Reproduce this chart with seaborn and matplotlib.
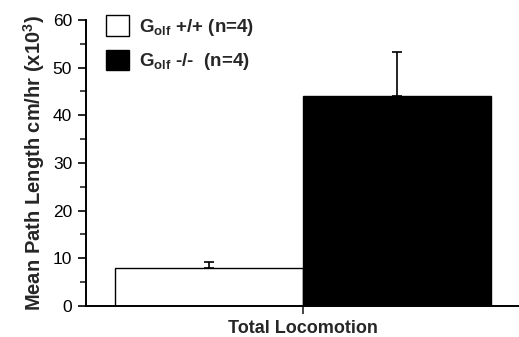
import matplotlib
matplotlib.use("Agg")
import matplotlib.pyplot as plt
import seaborn as sns
import pandas as pd
from matplotlib.ticker import MultipleLocator
from matplotlib.patches import Patch

categories = ["Total Locomotion", "Total Locomotion"]
genotypes = [r"G$_{olf}$ +/+ (n=4)", r"G$_{olf}$ -/-  (n=4)"]
values = [8.0, 44.0]
errors = [1.3, 9.3]
colors = ["white", "black"]

sns.set_theme(style="ticks")
plt.rcParams['font.family'] = ['Liberation Sans', 'DejaVu Sans']
plt.rcParams['mathtext.fontset'] = 'custom'
plt.rcParams['mathtext.default'] = 'bf'
plt.rcParams['mathtext.bf'] = 'Liberation Sans:bold'
plt.rcParams['mathtext.rm'] = 'Liberation Sans:bold'

df = pd.DataFrame({"cat": categories, "genotype": genotypes, "value": values})

fig = plt.figure(figsize=(5.19, 3.37), dpi=100)
ax = fig.add_axes([0.1657, 0.092, 0.8343, 0.849])
sns.barplot(data=df, x="cat", y="value", hue="genotype", hue_order=genotypes,
            palette=colors, edgecolor="black", linewidth=1.0, errorbar=None,
            width=0.8, ax=ax, legend=False)

for bar, err in zip(ax.patches, errors):
    cx = bar.get_x() + bar.get_width() / 2
    h = bar.get_height()
    ax.errorbar(cx, h, yerr=[[0], [err]], fmt="none", ecolor="black",
                elinewidth=1.2, capsize=3.5, capthick=1.2, zorder=5)

ax.set_ylim(0, 60)
ax.set_xlim(-0.462, 0.46)
ax.yaxis.set_major_locator(MultipleLocator(10))
ax.yaxis.set_minor_locator(MultipleLocator(5))
ax.tick_params(axis="y", which="major", length=6, width=1.2, labelsize=12.5, pad=4, colors="black")
ax.tick_params(axis="y", which="minor", length=4, width=1.2)
ax.tick_params(axis="x", length=6, width=1.2, labelbottom=False, pad=0)
sns.despine(ax=ax)
for s in ["left", "bottom"]:
    ax.spines[s].set_linewidth(1.4)
    ax.spines[s].set_color("black")

ax.set_xlabel("Total Locomotion", fontsize=13, fontweight="bold", labelpad=4)
ax.set_ylabel(r"Mean Path Length cm/hr (x10$^3$)", fontsize=14.5, fontweight="bold", labelpad=4)

handles = [Patch(facecolor=c, edgecolor="black", linewidth=1.0) for c in colors]
leg = ax.legend(handles, genotypes, loc="upper left", bbox_to_anchor=(0.008, 1.075),
                frameon=False, handlelength=1.2, handleheight=1.3, handletextpad=0.55,
                labelspacing=0.65, prop={"size": 13.5, "weight": "bold"})

fig.savefig("out.png", dpi=100)
